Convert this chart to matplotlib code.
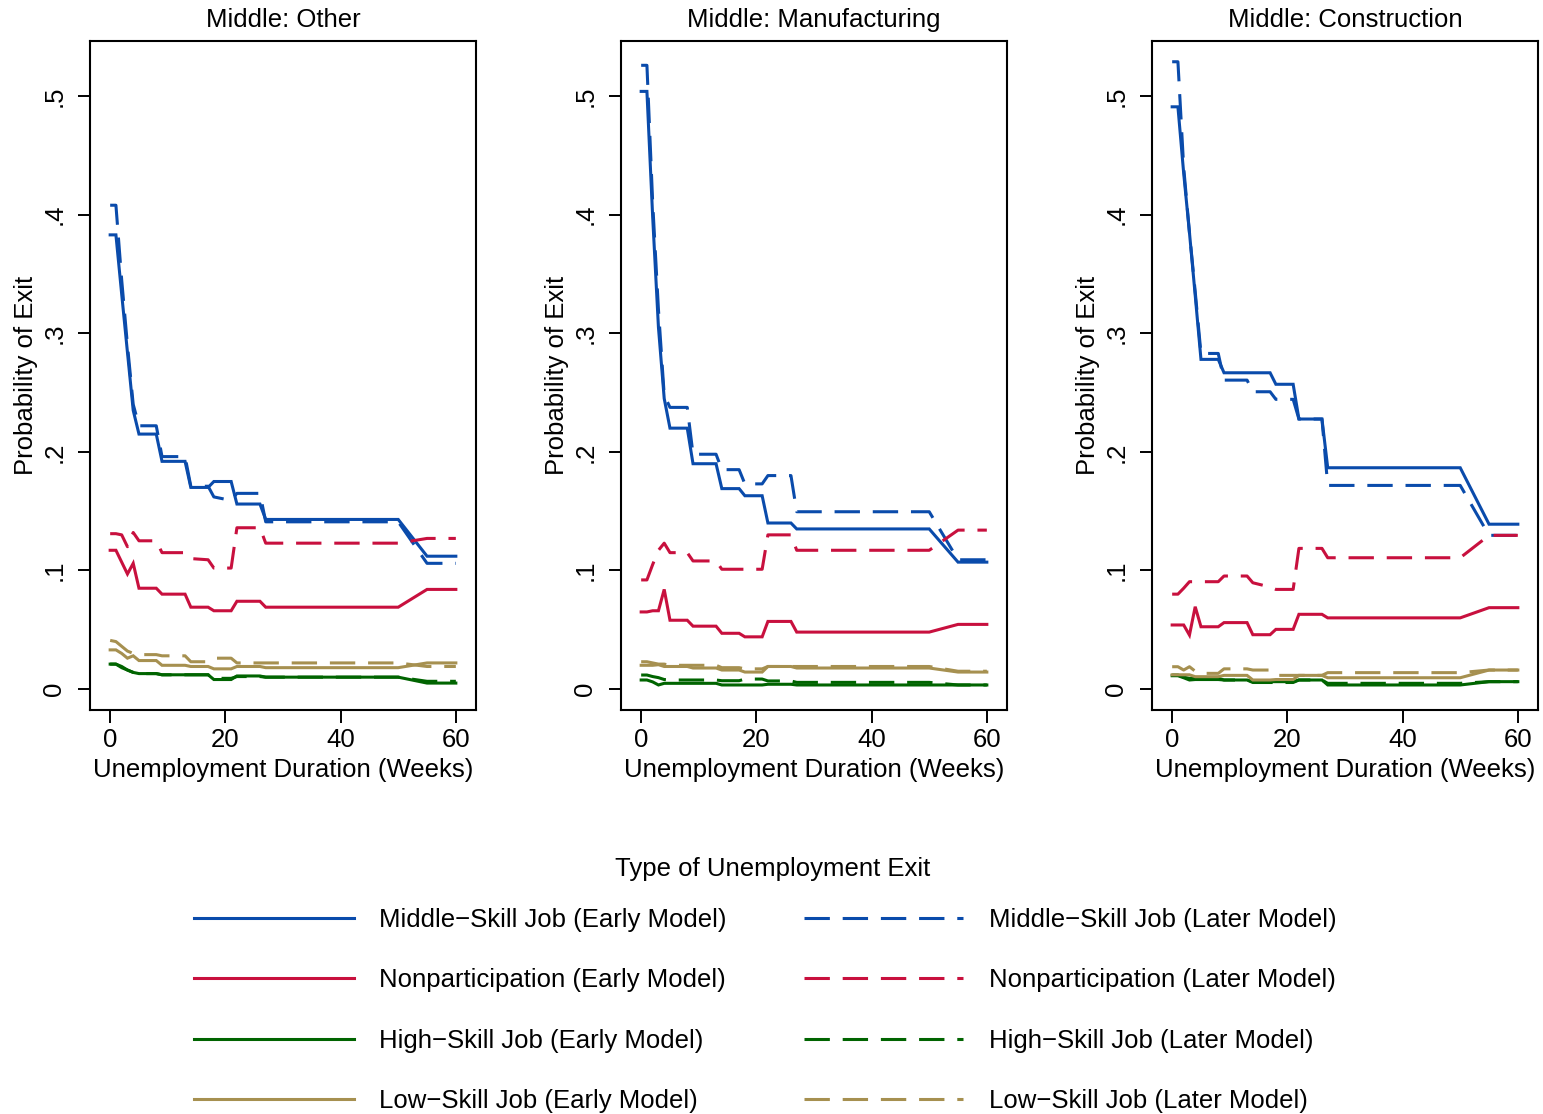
import matplotlib
matplotlib.use("Agg")
import matplotlib.pyplot as plt
from matplotlib.lines import Line2D

plt.rcParams['font.family'] = ['Liberation Sans', 'DejaVu Sans']

# Weeks at which the predicted exit probabilities are evaluated
weeks = [0, 1, 2, 3, 4, 5, 8, 9, 13, 14, 17, 18, 21, 22, 26, 27, 50, 55, 60]

panel_titles = ["Middle: Other", "Middle: Manufacturing", "Middle: Construction"]

# --- Middle: Other ---
other_mid_early = [0.383, 0.383, 0.333, 0.284, 0.235, 0.215, 0.215, 0.192, 0.192, 0.170, 0.170, 0.175, 0.175, 0.156, 0.156, 0.143, 0.143, 0.112, 0.112]
other_mid_later = [0.408, 0.408, 0.345, 0.290, 0.240, 0.222, 0.222, 0.196, 0.196, 0.171, 0.171, 0.162, 0.159, 0.165, 0.165, 0.141, 0.141, 0.106, 0.106]
other_nonp_early = [0.117, 0.117, 0.107, 0.097, 0.106, 0.085, 0.085, 0.080, 0.080, 0.069, 0.069, 0.066, 0.066, 0.074, 0.074, 0.069, 0.069, 0.084, 0.084]
other_nonp_later = [0.131, 0.131, 0.130, 0.120, 0.132, 0.125, 0.125, 0.115, 0.115, 0.110, 0.109, 0.102, 0.102, 0.136, 0.136, 0.123, 0.123, 0.127, 0.127]
other_high_early = [0.021, 0.021, 0.019, 0.016, 0.014, 0.013, 0.013, 0.012, 0.012, 0.012, 0.012, 0.008, 0.008, 0.011, 0.011, 0.010, 0.010, 0.005, 0.005]
other_high_later = [0.021, 0.021, 0.018, 0.016, 0.014, 0.013, 0.013, 0.012, 0.012, 0.012, 0.012, 0.009, 0.009, 0.0105, 0.0105, 0.010, 0.010, 0.0065, 0.0065]
other_low_early = [0.033, 0.033, 0.030, 0.026, 0.028, 0.024, 0.024, 0.020, 0.020, 0.019, 0.019, 0.017, 0.017, 0.019, 0.019, 0.018, 0.018, 0.022, 0.022]
other_low_later = [0.041, 0.040, 0.036, 0.032, 0.030, 0.029, 0.029, 0.028, 0.028, 0.023, 0.023, 0.026, 0.026, 0.022, 0.022, 0.022, 0.022, 0.019, 0.019]

# --- Middle: Manufacturing ---
manu_mid_early = [0.504, 0.504, 0.398, 0.305, 0.245, 0.220, 0.220, 0.190, 0.190, 0.169, 0.169, 0.163, 0.163, 0.140, 0.140, 0.135, 0.135, 0.107, 0.107]
manu_mid_later = [0.526, 0.526, 0.410, 0.320, 0.248, 0.2375, 0.2375, 0.198, 0.198, 0.185, 0.185, 0.173, 0.173, 0.180, 0.180, 0.1495, 0.1495, 0.109, 0.109]
manu_nonp_early = [0.065, 0.065, 0.066, 0.066, 0.084, 0.058, 0.058, 0.053, 0.053, 0.047, 0.047, 0.044, 0.044, 0.057, 0.057, 0.048, 0.048, 0.0545, 0.0545]
manu_nonp_later = [0.092, 0.092, 0.105, 0.117, 0.123, 0.115, 0.115, 0.108, 0.108, 0.101, 0.101, 0.101, 0.101, 0.130, 0.130, 0.117, 0.117, 0.134, 0.134]
manu_high_early = [0.0076, 0.0076, 0.006, 0.0034, 0.0048, 0.0048, 0.0048, 0.0048, 0.0048, 0.0034, 0.0034, 0.0034, 0.0034, 0.004, 0.004, 0.0034, 0.0034, 0.0034, 0.0034]
manu_high_later = [0.0118, 0.0118, 0.0105, 0.0096, 0.008, 0.0076, 0.0076, 0.0076, 0.0076, 0.007, 0.007, 0.0084, 0.0084, 0.0068, 0.0068, 0.0056, 0.0056, 0.0034, 0.0034]
manu_low_early = [0.020, 0.020, 0.020, 0.0205, 0.019, 0.019, 0.019, 0.0177, 0.0177, 0.016, 0.016, 0.0143, 0.0143, 0.019, 0.019, 0.0177, 0.0177, 0.0143, 0.0143]
manu_low_later = [0.023, 0.023, 0.022, 0.021, 0.021, 0.020, 0.020, 0.020, 0.020, 0.018, 0.018, 0.017, 0.017, 0.019, 0.019, 0.019, 0.019, 0.015, 0.015]

# --- Middle: Construction ---
cons_mid_early = [0.491, 0.491, 0.435, 0.385, 0.332, 0.278, 0.278, 0.2667, 0.2667, 0.2667, 0.2667, 0.257, 0.257, 0.2277, 0.2277, 0.1866, 0.1866, 0.139, 0.139]
cons_mid_later = [0.529, 0.529, 0.440, 0.385, 0.335, 0.283, 0.283, 0.2605, 0.2605, 0.2507, 0.2507, 0.2443, 0.2443, 0.2277, 0.2277, 0.1717, 0.1717, 0.1296, 0.1296]
cons_nonp_early = [0.054, 0.054, 0.054, 0.0455, 0.0694, 0.0525, 0.0525, 0.056, 0.056, 0.0458, 0.0458, 0.0503, 0.0503, 0.063, 0.063, 0.060, 0.060, 0.0686, 0.0686]
cons_nonp_later = [0.080, 0.080, 0.085, 0.0905, 0.0905, 0.0905, 0.0905, 0.0953, 0.0953, 0.0896, 0.086, 0.084, 0.084, 0.1186, 0.1186, 0.1107, 0.1107, 0.1296, 0.1296]
cons_high_early = [0.0112, 0.0112, 0.0095, 0.0076, 0.008, 0.008, 0.008, 0.0076, 0.0076, 0.0062, 0.0062, 0.0062, 0.0062, 0.0076, 0.0076, 0.0034, 0.0034, 0.0062, 0.0062]
cons_high_later = [0.0118, 0.0118, 0.010, 0.009, 0.009, 0.009, 0.009, 0.0076, 0.0076, 0.0055, 0.0055, 0.0055, 0.0055, 0.0076, 0.0076, 0.0048, 0.0048, 0.0062, 0.0062]
cons_low_early = [0.012, 0.012, 0.012, 0.012, 0.0104, 0.0104, 0.0104, 0.0115, 0.0115, 0.0076, 0.0076, 0.008, 0.008, 0.0115, 0.0115, 0.0095, 0.0095, 0.016, 0.016]
cons_low_later = [0.0188, 0.0188, 0.016, 0.0188, 0.015, 0.0132, 0.0132, 0.017, 0.017, 0.016, 0.016, 0.0115, 0.0115, 0.0115, 0.0115, 0.0138, 0.0138, 0.016, 0.016]

panels = [
    dict(mid=(other_mid_early, other_mid_later), nonp=(other_nonp_early, other_nonp_later),
         high=(other_high_early, other_high_later), low=(other_low_early, other_low_later)),
    dict(mid=(manu_mid_early, manu_mid_later), nonp=(manu_nonp_early, manu_nonp_later),
         high=(manu_high_early, manu_high_later), low=(manu_low_early, manu_low_later)),
    dict(mid=(cons_mid_early, cons_mid_later), nonp=(cons_nonp_early, cons_nonp_later),
         high=(cons_high_early, cons_high_later), low=(cons_low_early, cons_low_later)),
]

outcome_keys = ["mid", "nonp", "high", "low"]
outcome_names = ["Middle\u2212Skill Job", "Nonparticipation", "High\u2212Skill Job", "Low\u2212Skill Job"]
colors = {"mid": "#0a4bab", "nonp": "#c8103e", "high": "#006400", "low": "#a69050"}

LW = 2.2
DASH = (0, (8.3, 4.2))
FS = 18.5

fig = plt.figure(figsize=(15.43, 11.14), dpi=100)
lefts = [90 / 1543, 621 / 1543, 1152 / 1543]
width = 386 / 1543
bottom = 1 - 710 / 1114
height = (710 - 41) / 1114

for i, (left, title, data) in enumerate(zip(lefts, panel_titles, panels)):
    ax = fig.add_axes([left, bottom, width, height])
    for key in outcome_keys:
        early, later = data[key]
        ax.plot(weeks, early, color=colors[key], lw=LW, solid_joinstyle='miter')
        ax.plot(weeks, later, color=colors[key], lw=LW, linestyle=DASH)
    ax.set_xlim(-3.5, 63.5)
    ax.set_ylim(-0.0177, 0.5465)
    ax.set_xticks([0, 20, 40, 60])
    ax.set_yticks([0, 0.1, 0.2, 0.3, 0.4, 0.5])
    ax.set_yticklabels(["0", ".1", ".2", ".3", ".4", ".5"], rotation=90, va="center")
    ax.tick_params(axis="both", direction="out", length=9, width=1.4, labelsize=FS, colors="black")
    ax.tick_params(axis="y", pad=8)
    ax.tick_params(axis="x", pad=4)
    for sp in ax.spines.values():
        sp.set_linewidth(1.5)
    ax.set_title(title, fontsize=FS, pad=10)
    ax.set_xlabel("Unemployment Duration (Weeks)", fontsize=FS, labelpad=4)
    ax.set_ylabel("Probability of Exit", fontsize=FS, labelpad=3)

handles, labels = [], []
for model, ls in (("Early Model", "-"), ("Later Model", DASH)):
    for key, name in zip(outcome_keys, outcome_names):
        handles.append(Line2D([], [], color=colors[key], lw=LW, linestyle=ls))
        labels.append(f"{name} ({model})")

fig.text(0.501, 1 - 869 / 1114, "Type of Unemployment Exit", ha="center", va="center", fontsize=FS)
fig.legend(handles, labels, ncol=2, loc="upper center", bbox_to_anchor=(0.496, 1 - 885 / 1114),
           frameon=False, fontsize=FS, handlelength=6.2, handletextpad=1.0,
           columnspacing=3.0, labelspacing=1.41)

fig.savefig("out.png", dpi=100, facecolor="white")
